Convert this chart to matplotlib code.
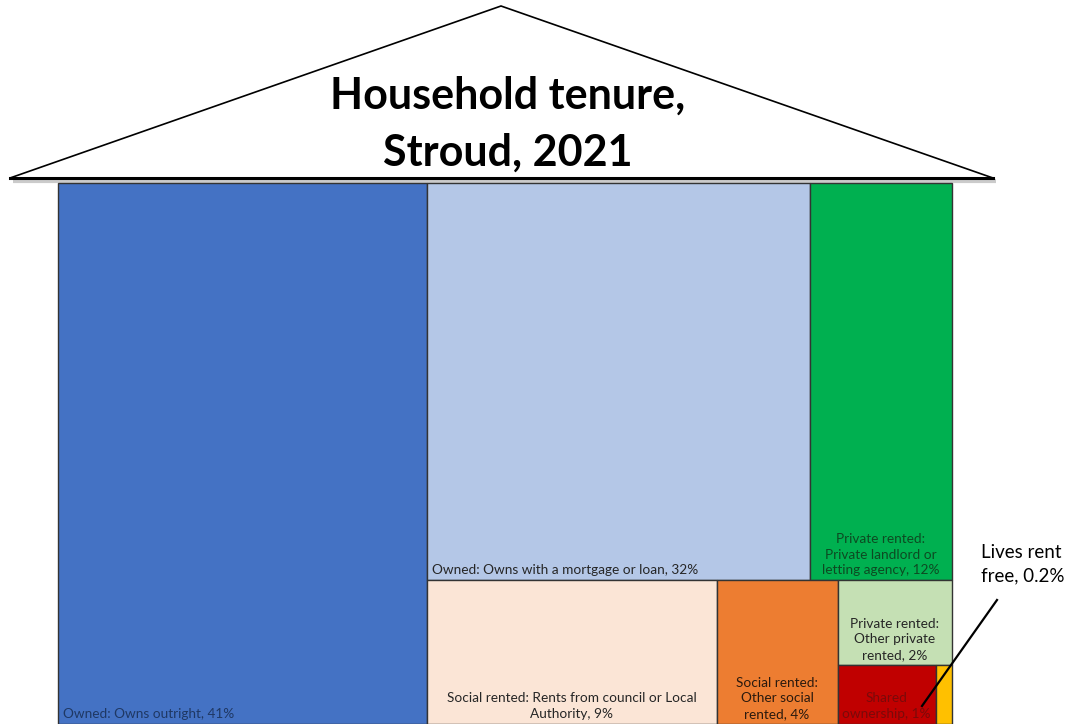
"""
Household tenure treemap for Stroud, 2021, drawn under a roof outline
"""

import matplotlib
matplotlib.use("Agg")
import matplotlib.pyplot as plt
from matplotlib.patches import Rectangle, Polygon

# Data (share of households, %)
categories = [
    "Owned: Owns outright",
    "Owned: Owns with a mortgage or loan",
    "Private rented: Private landlord or letting agency",
    "Social rented: Rents from council or Local Authority",
    "Social rented: Other social rented",
    "Private rented: Other private rented",
    "Shared ownership",
    "Lives rent free",
]
values = [41.3, 31.4, 11.7, 8.6, 3.6, 2.0, 1.2, 0.2]
labels = [
    "Owned: Owns outright, 41%",
    "Owned: Owns with a mortgage or loan, 32%",
    "Private rented:\nPrivate landlord or\nletting agency, 12%",
    "Social rented: Rents from council or Local\nAuthority, 9%",
    "Social rented:\nOther social\nrented, 4%",
    "Private rented:\nOther private\nrented, 2%",
    "Shared\nownership, 1%",
    "",
]
callout_text = "Lives rent\nfree, 0.2%"

# styles
fills = ["#4472C4", "#B4C7E7", "#00B050", "#FBE5D6",
         "#ED7D31", "#C5E0B4", "#C00000", "#FFC000"]
text_colors = ["#1F3864", "#262626", "#0D4A22", "#262626",
               "#2B1A0E", "#262626", "#7A0A0A", "#262626"]
label_align = ["left", "left", "center", "center",
               "center", "center", "center", "center"]

# nesting of the treemap: 'h' = side by side, 'v' = stacked
tree = ("h", [0, ("v", [("h", [1, 2]),
                        ("h", [3, 4, ("v", [5, ("h", [6, 7])])])])])


def node_sum(node):
    if isinstance(node, int):
        return values[node]
    return sum(node_sum(c) for c in node[1])


def layout(node, x, y, w, h, out):
    """Split a rectangle recursively by value share"""
    if isinstance(node, int):
        out[node] = (x, y, w, h)
        return
    direction, children = node
    total = node_sum(node)
    pos = 0.0
    for c in children:
        s = node_sum(c) / total
        if direction == "h":
            layout(c, x + pos * w, y, s * w, h, out)
        else:
            layout(c, x, y + pos * h, w, s * h, out)
        pos += s


fig = plt.figure(figsize=(10.71, 7.24), dpi=100)
ax = fig.add_axes([0, 0, 1, 1])
ax.set_xlim(0, 1071)
ax.set_ylim(724, 0)
ax.axis("off")

# roof
ax.plot([13, 996], [181, 181], color="#999999", lw=3, alpha=0.5,
        solid_capstyle="butt", zorder=1)
roof = Polygon([(10, 178), (501, 6), (993, 178)], closed=True,
               facecolor="white", edgecolor="black", lw=1.2, zorder=2)
ax.add_patch(roof)
ax.plot([10, 993], [178, 178], color="black", lw=2.2, zorder=3)

title_font = ["Lato", "DejaVu Sans"]
ax.text(508, 109, "Household tenure,", ha="center", va="baseline",
        fontsize=31, fontweight="bold", family=title_font, zorder=4)
ax.text(508, 166, "Stroud, 2021", ha="center", va="baseline",
        fontsize=31, fontweight="bold", family=title_font, zorder=4)

# treemap body
rects = {}
layout(tree, 58, 183, 894, 541, rects)

label_font = ["Lato", "DejaVu Sans"]
for i in range(len(values)):
    x, y, w, h = rects[i]
    ax.add_patch(Rectangle((x, y), w, h, facecolor=fills[i],
                           edgecolor="#333333", lw=1.0, zorder=2))
    if not labels[i]:
        continue
    if label_align[i] == "left":
        tx, ha = x + 5, "left"
    else:
        tx, ha = x + w / 2, "center"
    ax.text(tx, y + h - 4, labels[i], ha=ha, va="bottom",
            multialignment="center", fontsize=9.8, linespacing=1.35,
            color=text_colors[i], family=label_font, zorder=3)

# callout for the tiny slice
ax.text(981, 564, callout_text, ha="left", va="center", fontsize=13.5,
        linespacing=1.45, family=label_font, zorder=4)
ax.plot([997, 922], [600, 706], color="black", lw=1.6, zorder=5)

fig.savefig("out.png", dpi=100)
